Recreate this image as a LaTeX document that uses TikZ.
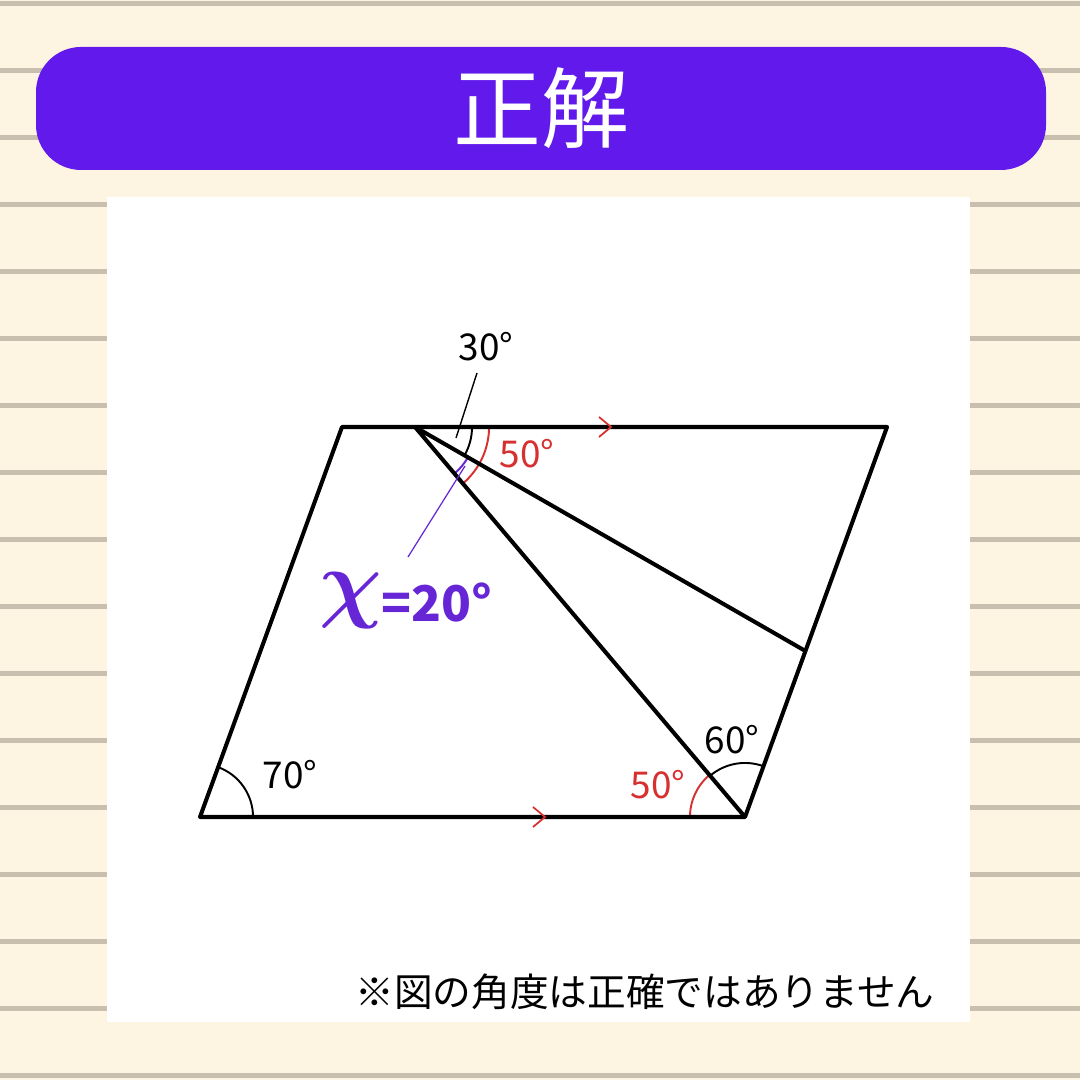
\documentclass[tikz,border=0pt]{standalone}
\usepackage{amsmath}
\usepackage{fontspec}
\setmainfont{Noto Sans CJK JP}
\usetikzlibrary{calc,angles}
\definecolor{cream}{RGB}{253,245,226}
\definecolor{stripe}{RGB}{200,191,174}
\definecolor{banner}{RGB}{97,26,235}
\definecolor{angred}{RGB}{214,48,48}
\definecolor{xpurple}{RGB}{102,38,214}
\tikzset{>=latex}

\begin{document}
\begin{tikzpicture}[x=0.01cm, y=0.01cm,
  edgeline/.style={line width=1.15pt, line join=round},
  arcline/.style={draw, line width=0.55pt},
  deg/.style={font=\fontsize{10.5}{12}\selectfont, inner sep=0pt},
  para/.style={draw=angred, line width=0.5pt}]
\useasboundingbox (0,0) rectangle (1080,1080);
% background
\fill[cream] (0,0) rectangle (1080,1080);
\foreach \i in {0,...,16}
  \fill[stripe] (0,1074-67*\i) rectangle (1080,1079-67*\i);
\fill[banner, rounded corners=0.45cm] (36,910) rectangle (1046,1033);
\node (title) [text=white, font=\fontsize{25}{25}\selectfont] at (541,972) {正解};
\fill[white] (107,58) rectangle (970,883);

% figure
\coordinate (A) at (200,263);
\coordinate (B) at (745,263);
\coordinate (C) at (887,653);
\coordinate (D) at (342,653);
\coordinate (P) at (415,653);
\coordinate (Q) at ($(B)!0.4256!(C)$);

\path
pic[arcline, angle radius=0.53cm] {angle=B--A--D}
pic[arcline, angle radius=0.54cm] {angle=C--B--P}
pic[arcline, draw=angred, angle radius=0.55cm] {angle=P--B--A}
pic[arcline, angle radius=0.57cm] {angle=Q--P--C}
pic[arcline, draw=xpurple, angle radius=0.61cm] {angle=B--P--Q}
pic[arcline, draw=angred, angle radius=0.74cm] {angle=B--P--C};

\draw[edgeline] (A) -- (B) -- (C) -- (D) -- cycle;
\draw[edgeline] (P) -- (B) (P) -- (Q);

% parallel marks
\coordinate (mt) at (605,653);
\coordinate (mb) at (539,263);
\draw[para] ($(mt)+(-6,10)$) -- ($(mt)+(6,0)$) -- ($(mt)+(-6,-10)$);
\draw[para] ($(mb)+(-6,10)$) -- ($(mb)+(6,0)$) -- ($(mb)+(-6,-10)$);

% labels
\node[deg] (a30) at (486,733) {30°};
\node[deg, text=angred] (a50t) at (527,626) {50°};
\node[deg] (a60) at (732,340) {60°};
\node[deg, text=angred] (a50b) at (658,295) {50°};
\node[deg] (a70) at (290,305) {70°};
\coordinate (l1) at (477,707);
\coordinate (l2) at (456,642);
\draw[line width=0.4pt] (l1) -- (l2);
\coordinate (k1) at (408,523);
\coordinate (k2) at (465,614);
\draw[xpurple, line width=0.35pt] (k1) -- (k2);

\node[text=xpurple, inner sep=0pt, font=\fontsize{28}{28}\selectfont] (xchi) at (351,479) {$\boldsymbol{\chi}$};
\node[text=xpurple, font=\bfseries\fontsize{14}{14}\selectfont, anchor=west, inner sep=0pt] (xval) at (381,477) {=20°};
\node[font=\fontsize{11}{11}\selectfont] (note) at (645,88) {※図の角度は正確ではありません};
\end{tikzpicture}
\end{document}
